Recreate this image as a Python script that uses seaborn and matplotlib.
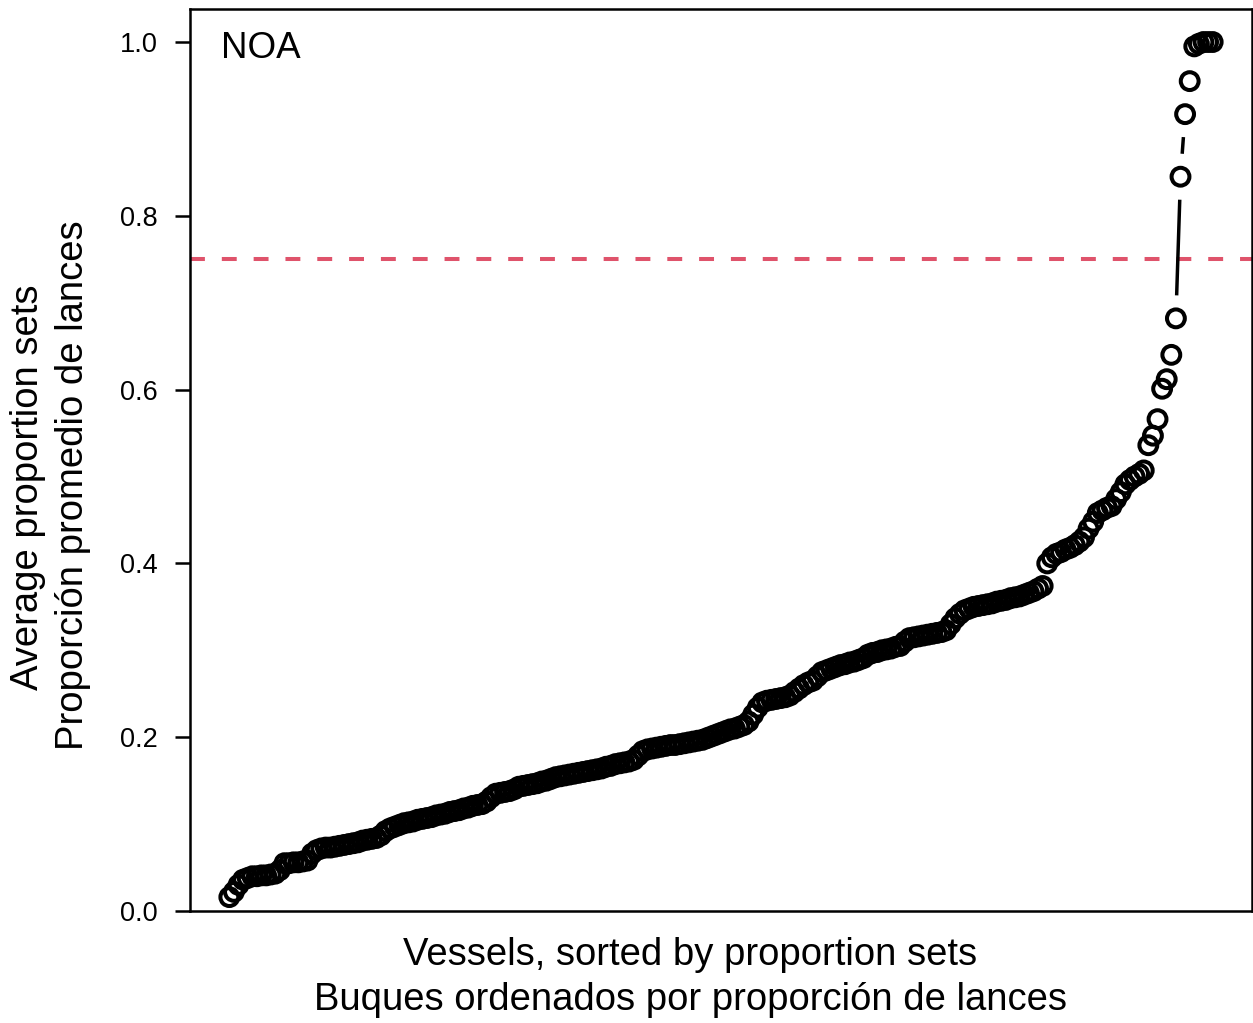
import numpy as np
import pandas as pd
import matplotlib
matplotlib.use("Agg")
import matplotlib.pyplot as plt
import seaborn as sns

# average proportion of sets per vessel, sorted ascending
propValues = [
    0.016, 0.022, 0.030, 0.036, 0.038, 0.040, 0.040, 0.041, 0.041, 0.042,
    0.043, 0.047, 0.055, 0.055, 0.056, 0.056, 0.057, 0.058, 0.066, 0.070,
    0.072, 0.073, 0.073, 0.074, 0.075, 0.076, 0.077, 0.078, 0.079, 0.081,
    0.082, 0.083, 0.084, 0.087, 0.092, 0.095, 0.097, 0.099, 0.101, 0.102,
    0.103, 0.105, 0.106, 0.107, 0.108, 0.110, 0.111, 0.112, 0.114, 0.115,
    0.116, 0.118, 0.119, 0.121, 0.122, 0.123, 0.126, 0.131, 0.135, 0.136,
    0.137, 0.138, 0.140, 0.143, 0.144, 0.145, 0.146, 0.147, 0.149, 0.150,
    0.152, 0.154, 0.155, 0.156, 0.157, 0.158, 0.159, 0.160, 0.161, 0.162,
    0.163, 0.164, 0.166, 0.167, 0.169, 0.170, 0.171, 0.172, 0.174, 0.179,
    0.184, 0.186, 0.187, 0.188, 0.189, 0.190, 0.191, 0.191, 0.192, 0.193,
    0.194, 0.195, 0.196, 0.197, 0.199, 0.201, 0.203, 0.205, 0.207, 0.209,
    0.210, 0.212, 0.214, 0.218, 0.226, 0.234, 0.240, 0.242, 0.243, 0.244,
    0.245, 0.246, 0.248, 0.252, 0.256, 0.260, 0.263, 0.265, 0.270, 0.275,
    0.277, 0.279, 0.281, 0.283, 0.284, 0.286, 0.287, 0.289, 0.291, 0.295,
    0.297, 0.298, 0.300, 0.301, 0.302, 0.304, 0.305, 0.310, 0.314, 0.315,
    0.316, 0.317, 0.318, 0.319, 0.320, 0.321, 0.323, 0.330, 0.337, 0.342,
    0.346, 0.348, 0.350, 0.351, 0.352, 0.353, 0.354, 0.356, 0.357, 0.358,
    0.360, 0.361, 0.362, 0.364, 0.366, 0.368, 0.371, 0.374, 0.400, 0.407,
    0.411, 0.413, 0.416, 0.418, 0.421, 0.425, 0.430, 0.440, 0.448, 0.458,
    0.461, 0.464, 0.466, 0.474, 0.482, 0.491, 0.496, 0.500, 0.503, 0.507,
    0.536, 0.547, 0.566, 0.601, 0.612, 0.640, 0.682, 0.845, 0.917, 0.955,
    0.995, 0.998, 1.000, 1.000, 1.000,
]
thresholdValue = 0.75
yTicks = [0.0, 0.2, 0.4, 0.6, 0.8, 1.0]
regionLabel = "NOA"
xLabelLines = ["Vessels, sorted by proportion sets",
               "Buques ordenados por proporción de lances"]
yLabelLines = ["Average proportion sets",
               "Proporción promedio de lances"]

df = pd.DataFrame({"vessel": np.arange(len(propValues)), "prop": propValues})

sns.set_style("white")
plt.rcParams['font.family'] = ['Liberation Sans', 'DejaVu Sans']
plt.rcParams['text.color'] = 'black'

fig = plt.figure(figsize=(12.53, 10.23), dpi=100)
ax = fig.add_axes([190 / 1253, 1 - 911 / 1023, 1062 / 1253, 902 / 1023])

n = len(df)
pad = 0.04 * (n - 1)
ax.set_xlim(-pad, n - 1 + pad)
ax.set_ylim(0, 1.038)

# R style type="b": segments between points, cut short around each marker
gapPx = 23
pix = ax.transData.transform(df[["vessel", "prop"]].to_numpy())
inv = ax.transData.inverted()
for i in range(n - 1):
    p0, p1 = pix[i], pix[i + 1]
    d = np.hypot(*(p1 - p0))
    if d <= 2 * gapPx:
        continue
    u = (p1 - p0) / d
    seg = inv.transform([p0 + u * gapPx, p1 - u * gapPx])
    ax.plot(seg[:, 0], seg[:, 1], color='black', linewidth=2.5,
            solid_capstyle='butt', zorder=2)

sns.scatterplot(data=df, x="vessel", y="prop", ax=ax, marker='o', s=165,
                facecolor='none', edgecolor='black', linewidth=2.9, zorder=3)

ax.axhline(thresholdValue, color='#DF536B', linewidth=2.9,
           linestyle=(0, (3.7, 4.2)), zorder=1)

ax.set_xticks([])
ax.set_yticks(yTicks)
ax.set_yticklabels([f"{t:.1f}" for t in yTicks], fontsize=19.5)
ax.tick_params(axis='y', left=True, length=11, width=1.8, pad=12,
               colors='black', labelcolor='black')
for sp in ax.spines.values():
    sp.set_visible(True)
    sp.set_color('black')
    sp.set_linewidth(1.8)
ax.set_xlabel("")
ax.set_ylabel("")

ax.text(31 / 1062, 1 - 39 / 902, regionLabel, transform=ax.transAxes,
        fontsize=26.5, ha='left', va='center')

fig.text(690 / 1253, 1 - 955 / 1023, xLabelLines[0], fontsize=27.5,
         ha='center', va='center')
fig.text(690 / 1253, 1 - 1000 / 1023, xLabelLines[1], fontsize=27.5,
         ha='center', va='center')
fig.text(28 / 1253, 1 - 487 / 1023, yLabelLines[0], fontsize=27.5,
         ha='center', va='center', rotation=90)
fig.text(73 / 1253, 1 - 485 / 1023, yLabelLines[1], fontsize=27.5,
         ha='center', va='center', rotation=90)

fig.savefig("out.png", dpi=100)
plt.close(fig)
